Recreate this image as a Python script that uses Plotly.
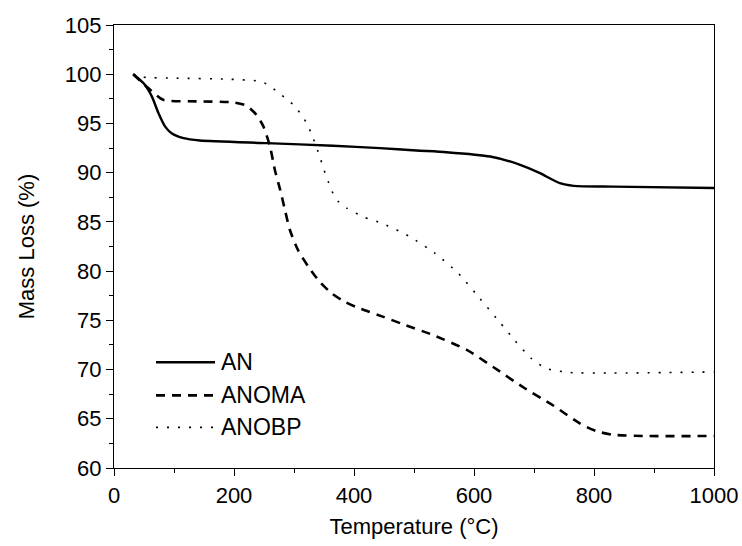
import plotly.graph_objects as go

# ---- data ----
an_T = [32, 49, 63, 74, 85, 96, 116, 143, 254, 365, 443, 504, 554, 627, 677, 710, 743, 766, 832, 1000]
an_m = [100.0, 99.1, 97.75, 96.06, 94.7, 94.0, 93.5, 93.27, 93.0, 92.73, 92.49, 92.25, 92.08, 91.64, 90.8, 89.95, 88.93, 88.66, 88.58, 88.45]

anoma_T = [32, 57, 82, 143, 199, 221, 237, 249, 260, 268, 277, 285, 293, 307, 324, 343, 363, 385, 410, 449, 482, 532, 588, 632, 682, 732, 777, 804, 832, 888, 1000]
anoma_m = [100.0, 98.6, 97.4, 97.24, 97.14, 96.8, 95.9, 94.7, 92.66, 90.3, 88.25, 86.2, 84.2, 82.1, 80.44, 78.9, 77.73, 76.87, 76.2, 75.35, 74.6, 73.5, 72.0, 70.26, 68.2, 66.35, 64.5, 63.74, 63.37, 63.25, 63.25]

anobp_T = [32, 49, 104, 188, 241, 257, 271, 285, 299, 310, 321, 329, 343, 349, 357, 365, 374, 388, 415, 449, 493, 535, 574, 610, 643, 668, 696, 721, 760, 832, 1000]
anobp_m = [100.0, 99.7, 99.6, 99.5, 99.3, 98.94, 98.26, 97.6, 96.9, 96.06, 95.04, 93.95, 91.64, 90.46, 89.1, 87.9, 87.06, 86.4, 85.53, 84.8, 83.5, 81.8, 79.77, 77.2, 74.8, 72.97, 71.1, 70.1, 69.7, 69.65, 69.75]

names = ["AN", "ANOMA", "ANOBP"]
x_ticks = [0, 200, 400, 600, 800, 1000]
y_ticks = [60, 65, 70, 75, 80, 85, 90, 95, 100, 105]

FONT = "Liberation Sans, Arial, sans-serif"
styles = [
    dict(color="black", width=2.4, dash="solid"),
    dict(color="black", width=2.6, dash="9px,7px"),
    dict(color="black", width=1.6, dash="2px,9px"),
]

fig = go.Figure()
for T, m, nm, st in zip([an_T, anoma_T, anobp_T], [an_m, anoma_m, anobp_m], names, styles):
    fig.add_trace(go.Scatter(x=T, y=m, mode="lines", name=nm, line=dict(shape="spline", smoothing=0.6, **st),
                             showlegend=False))

# custom legend (long line samples as in the reference)
leg_y = [362, 395, 427]
for nm, st, py in zip(names, styles, leg_y):
    yp = (467.5 - py) / 442.0
    fig.add_shape(type="line", xref="paper", yref="paper",
                  x0=(156 - 114) / 600.0, x1=(215 - 114) / 600.0, y0=yp, y1=yp,
                  line=st)
    fig.add_annotation(xref="paper", yref="paper", x=(219 - 114) / 600.0, y=yp, text=nm,
                       showarrow=False, xanchor="left", yanchor="middle",
                       font=dict(family=FONT, size=23, color="black"))

axis_common = dict(showline=True, linecolor="black", linewidth=1.3, mirror=True,
                   ticks="outside", tickcolor="black", tickwidth=1.3, ticklen=7,
                   showgrid=False, zeroline=False, automargin=False,
                   tickfont=dict(family=FONT, size=22, color="black"))

fig.update_xaxes(range=[0, 1000], tickvals=x_ticks, ticktext=[str(v) for v in x_ticks],
                 minor=dict(ticks="outside", ticklen=4, dtick=100, tickcolor="black", tickwidth=1.3, showgrid=False),
                 title=dict(text="Temperature (°C)", font=dict(family=FONT, size=22, color="black"), standoff=12),
                 **axis_common)
fig.update_yaxes(range=[60, 105], tickvals=y_ticks, ticktext=[str(v) for v in y_ticks],
                 minor=dict(ticks="outside", ticklen=4, dtick=2.5, tickcolor="black", tickwidth=1.3, showgrid=False),
                 title=dict(text="Mass Loss (%)", font=dict(family=FONT, size=22, color="black"), standoff=24),
                 **axis_common)

fig.update_layout(width=742, height=546, margin=dict(l=114, r=28, t=25, b=78),
                  paper_bgcolor="white", plot_bgcolor="white", showlegend=False)

fig.write_html("out.html")
